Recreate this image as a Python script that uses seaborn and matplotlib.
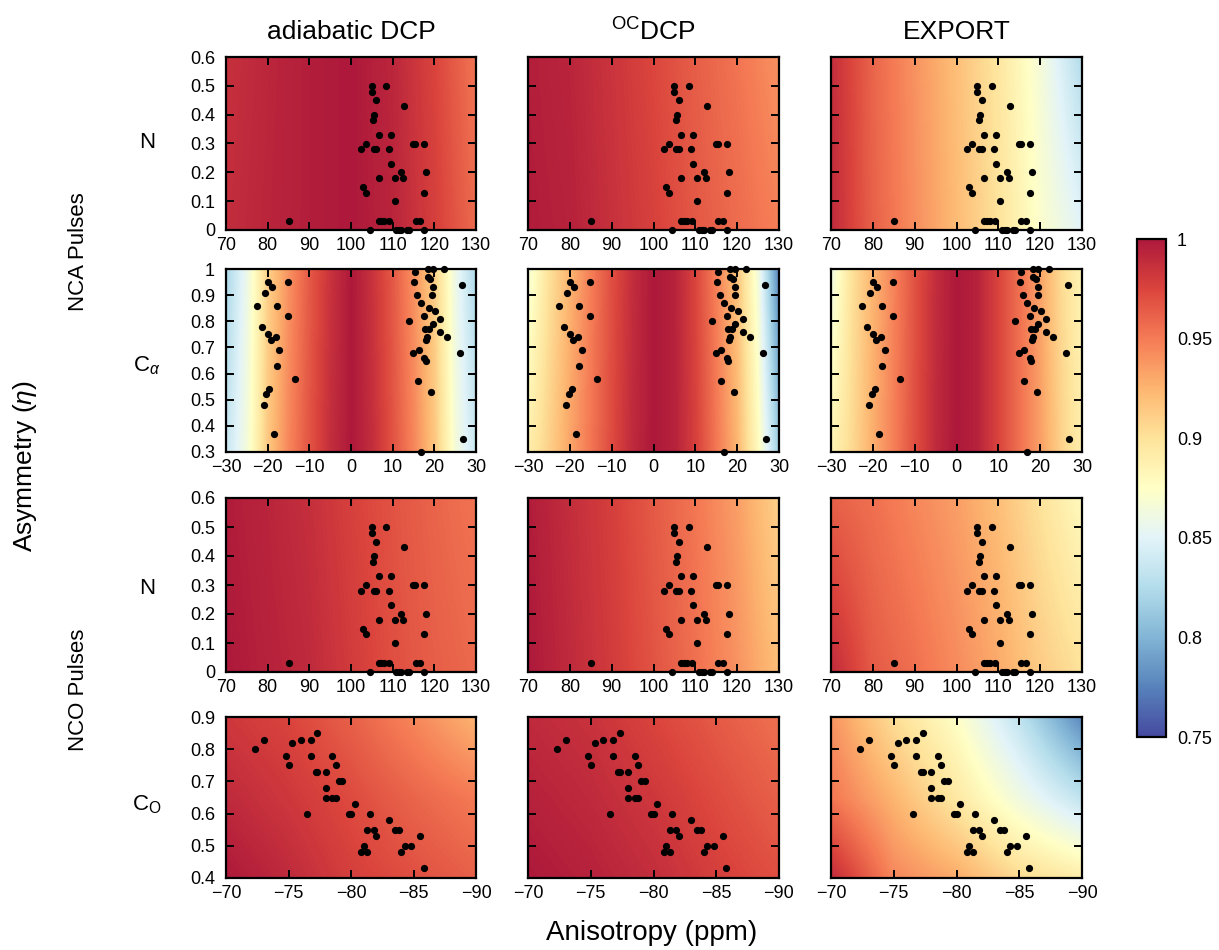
import numpy as np
import matplotlib
matplotlib.use("Agg")
import matplotlib.pyplot as plt
from matplotlib.colors import ListedColormap
from matplotlib.ticker import FuncFormatter, MultipleLocator
import seaborn as sns

# ---------------- data ----------------
methods = ['adiabatic DCP', '$^{\\mathsf{OC}}$DCP', 'EXPORT']
row_labels = ['N', 'C$_\\alpha$', 'N', 'C$_\\mathsf{O}$']

# scaling factor grids (sample positions along anisotropy / asymmetry)
n_grid_x = [70, 80, 90, 100, 110, 120, 130]
n_grid_y = [0, 0.6]
ca_grid_x = [-30, -25, -20, -15, -10, -5, 0, 5, 10, 15, 20, 25, 30]
ca_grid_y = [0.3, 1.0]
co_grid_x = [-70, -75, -80, -85, -90]
co_grid_y = [0.4, 0.65, 0.9]

# NCA pulses, N
nca_n_adiabatic = [[0.988, 0.993, 0.997, 1.0, 0.993, 0.978, 0.957],
                   [0.986, 0.992, 0.997, 1.0, 0.992, 0.975, 0.952]]
nca_n_oc = [[0.998, 0.995, 0.986, 0.977, 0.966, 0.957, 0.948],
            [0.997, 0.993, 0.984, 0.974, 0.963, 0.953, 0.940]]
nca_n_export = [[0.990, 0.962, 0.942, 0.922, 0.900, 0.872, 0.850],
                [0.988, 0.960, 0.940, 0.920, 0.897, 0.866, 0.825]]
# NCA pulses, C-alpha
nca_ca_adiabatic = [[0.835, 0.865, 0.915, 0.945, 0.968, 0.988, 1.0, 0.988, 0.968, 0.945, 0.915, 0.865, 0.835],
                    [0.820, 0.858, 0.910, 0.940, 0.965, 0.985, 1.0, 0.985, 0.965, 0.940, 0.910, 0.858, 0.820]]
nca_ca_oc = [[0.890, 0.910, 0.932, 0.952, 0.972, 0.990, 1.0, 0.995, 0.978, 0.952, 0.925, 0.880, 0.815],
             [0.865, 0.900, 0.925, 0.948, 0.970, 0.988, 1.0, 0.995, 0.975, 0.948, 0.918, 0.865, 0.775]]
nca_ca_export = [[0.885, 0.905, 0.928, 0.948, 0.970, 0.990, 1.0, 0.995, 0.975, 0.955, 0.935, 0.910, 0.890],
                 [0.860, 0.900, 0.925, 0.946, 0.968, 0.988, 1.0, 0.995, 0.975, 0.955, 0.933, 0.905, 0.885]]
# NCO pulses, N
nco_n_adiabatic = [[1.0, 0.995, 0.990, 0.980, 0.970, 0.963, 0.958],
                   [0.998, 0.993, 0.987, 0.977, 0.968, 0.960, 0.953]]
nco_n_oc = [[1.0, 0.990, 0.980, 0.968, 0.955, 0.940, 0.920],
            [0.998, 0.988, 0.978, 0.965, 0.952, 0.935, 0.910]]
nco_n_export = [[0.990, 0.965, 0.955, 0.943, 0.930, 0.913, 0.900],
                [0.962, 0.955, 0.945, 0.935, 0.920, 0.900, 0.880]]
# NCO pulses, C-O
nco_co_adiabatic = [[1.0, 0.990, 0.978, 0.970, 0.962],
                    [0.990, 0.982, 0.972, 0.960, 0.950],
                    [0.982, 0.975, 0.962, 0.945, 0.925]]
nco_co_oc = [[1.0, 0.995, 0.988, 0.978, 0.970],
             [0.995, 0.990, 0.982, 0.972, 0.962],
             [0.990, 0.985, 0.975, 0.965, 0.955]]
nco_co_export = [[0.990, 0.945, 0.930, 0.905, 0.892],
                 [0.952, 0.925, 0.895, 0.862, 0.832],
                 [0.940, 0.903, 0.875, 0.832, 0.778]]

# residue tensors (anisotropy ppm, asymmetry)
n_aniso = [85.0, 105.0, 105.0, 108.5, 106.0, 105.5, 105.3, 112.8, 106.6, 109.5,
           103.6, 102.5, 105.4, 106.1, 109.0, 114.9, 115.3, 117.6, 109.5, 112.0,
           118.1, 106.6, 110.5, 112.5, 102.9, 103.6, 117.6, 110.5, 106.6, 107.2,
           108.0, 109.1, 115.5, 116.5, 104.5, 110.9, 111.5, 112.0, 113.5, 114.0, 117.6]
n_eta = [0.03, 0.50, 0.48, 0.50, 0.45, 0.40, 0.38, 0.43, 0.33, 0.33,
         0.30, 0.28, 0.28, 0.28, 0.28, 0.30, 0.30, 0.30, 0.23, 0.20,
         0.20, 0.18, 0.18, 0.18, 0.15, 0.13, 0.13, 0.10, 0.03, 0.03,
         0.03, 0.03, 0.03, 0.03, 0.0, 0.0, 0.0, 0.0, 0.0, 0.0, 0.0]

ca_aniso = [-19.9, -19.0, -20.7, -22.5, -17.7, -15.2, -15.1, -21.3, -19.9, -19.2,
            -18.0, -17.2, -17.7, -13.4, -19.6, -20.3, -21.0, -18.6,
            15.3, 18.4, 19.6, 22.2, 18.4, 19.0, 15.1, 26.6, 19.6, 15.9,
            19.5, 16.9, 18.6, 20.1, 17.5, 21.4, 14.0, 19.6, 17.7, 18.8,
            21.4, 23.0, 18.3, 18.0, 14.9, 16.2, 17.6, 17.9, 26.2, 16.1,
            19.3, 26.8, 16.9]
ca_eta = [0.95, 0.93, 0.91, 0.86, 0.86, 0.95, 0.82, 0.78, 0.75, 0.73,
          0.74, 0.69, 0.63, 0.58, 0.54, 0.52, 0.48, 0.37,
          0.99, 1.0, 1.0, 1.0, 0.97, 0.96, 0.95, 0.94, 0.93, 0.90,
          0.90, 0.87, 0.85, 0.84, 0.82, 0.81, 0.80, 0.79, 0.77, 0.77,
          0.76, 0.74, 0.74, 0.73, 0.68, 0.69, 0.66, 0.65, 0.68, 0.57,
          0.53, 0.35, 0.30]

co_aniso = [-72.3, -73.0, -74.8, -75.0, -75.3, -76.0, -76.8, -77.3, -76.8, -76.5,
            -77.2, -77.3, -78.0, -78.5, -78.8, -78.0, -78.0, -78.5, -78.8, -79.0,
            -79.3, -79.8, -80.0, -80.3, -81.5, -81.3, -81.8, -82.0, -81.0, -80.8,
            -81.3, -83.0, -83.5, -83.8, -84.3, -84.8, -84.0, -85.5, -85.8]
co_eta = [0.80, 0.83, 0.78, 0.75, 0.82, 0.83, 0.83, 0.85, 0.78, 0.60,
          0.73, 0.73, 0.73, 0.78, 0.75, 0.68, 0.65, 0.65, 0.65, 0.70,
          0.70, 0.60, 0.60, 0.63, 0.60, 0.55, 0.55, 0.53, 0.50, 0.48,
          0.48, 0.58, 0.55, 0.55, 0.50, 0.50, 0.48, 0.53, 0.43]

cbar_ticks = [0.75, 0.8, 0.85, 0.9, 0.95, 1.0]

# ---------------- style ----------------
sns.set_style("ticks")
plt.rcParams['font.family'] = ['Liberation Sans', 'DejaVu Sans']
plt.rcParams['mathtext.fontset'] = 'custom'
plt.rcParams['mathtext.rm'] = 'Liberation Sans'
plt.rcParams['mathtext.sf'] = 'Liberation Sans'
plt.rcParams['mathtext.it'] = 'Liberation Sans:italic'
plt.rcParams['axes.unicode_minus'] = True
plt.rcParams['text.color'] = 'black'

base = plt.get_cmap('RdYlBu_r')(np.linspace(0, 1, 256))
base[:, :3] = base[:, :3] * 0.9 + 0.1
cmap = ListedColormap(base)
vmin, vmax = 0.75, 1.0

W, H = 1219, 950
fig = plt.figure(figsize=(W / 100, H / 100), dpi=100)


def rect(x0, y0, x1, y1):
    # pixel box (top-left origin) -> figure fraction
    return [x0 / W, 1 - y1 / H, (x1 - x0) / W, (y1 - y0) / H]


col_x = [(226, 476), (528, 779), (831, 1082)]
row_y = [(57, 230), (269, 452), (498, 672), (717, 878)]

fmt = FuncFormatter(lambda v, _: f"{v:g}".replace('-', '\u2212'))

rows = [
    dict(gx=n_grid_x, gy=n_grid_y, fields=[nca_n_adiabatic, nca_n_oc, nca_n_export],
         px=n_aniso, py=n_eta, xlim=(70, 130), ylim=(0, 0.6), xstep=10),
    dict(gx=ca_grid_x, gy=ca_grid_y, fields=[nca_ca_adiabatic, nca_ca_oc, nca_ca_export],
         px=ca_aniso, py=ca_eta, xlim=(-30, 30), ylim=(0.3, 1.0), xstep=10),
    dict(gx=n_grid_x, gy=n_grid_y, fields=[nco_n_adiabatic, nco_n_oc, nco_n_export],
         px=n_aniso, py=n_eta, xlim=(70, 130), ylim=(0, 0.6), xstep=10),
    dict(gx=co_grid_x, gy=co_grid_y, fields=[nco_co_adiabatic, nco_co_oc, nco_co_export],
         px=co_aniso, py=co_eta, xlim=(-70, -90), ylim=(0.4, 0.9), xstep=5),
]

img = None
for r, spec in enumerate(rows):
    gx, gy = spec['gx'], spec['gy']
    dx = (gx[1] - gx[0]) / 2
    dy = (gy[1] - gy[0]) / 2
    extent = [gx[0] - dx, gx[-1] + dx, gy[0] - dy, gy[-1] + dy]
    for c in range(3):
        ax = fig.add_axes(rect(col_x[c][0], row_y[r][0], col_x[c][1], row_y[r][1]))
        img = ax.imshow(np.array(spec['fields'][c]), origin='lower', extent=extent,
                        aspect='auto', interpolation='bilinear', cmap=cmap,
                        vmin=vmin, vmax=vmax)
        sns.scatterplot(x=spec['px'], y=spec['py'], ax=ax, color='black', s=27,
                        linewidth=0, legend=False, clip_on=False, zorder=5)
        ax.set_xlim(*spec['xlim'])
        ax.set_ylim(*spec['ylim'])
        ax.xaxis.set_major_locator(MultipleLocator(spec['xstep']))
        ax.yaxis.set_major_locator(MultipleLocator(0.1))
        ax.xaxis.set_major_formatter(fmt)
        ax.yaxis.set_major_formatter(fmt)
        ax.tick_params(direction='in', length=6, width=1.4, bottom=True, left=True,
                       top=True, right=True, labelsize=13, colors='black',
                       labelleft=(c == 0))
        ax.tick_params(axis='x', pad=5)
        ax.tick_params(axis='y', pad=8)
        for sp in ax.spines.values():
            sp.set_linewidth(1.6)
            sp.set_color('black')
            sp.set_zorder(6)
        ax.set_xlabel('')
        ax.set_ylabel('')

# colorbar
cax = fig.add_axes(rect(1137, 239, 1166, 737))
cb = fig.colorbar(img, cax=cax, ticks=cbar_ticks)
cb.ax.yaxis.set_major_formatter(fmt)
cb.ax.tick_params(direction='in', length=6, width=1.4, left=True, right=True,
                  labelsize=13, pad=8, colors='black')
cb.outline.set_linewidth(1.6)
cb.outline.set_edgecolor('black')

# titles and labels
def px_text(x, y, s, **kw):
    fig.text(x / W, 1 - y / H, s, ha='center', va='center', color='black', **kw)

for c, name in enumerate(methods):
    px_text((col_x[c][0] + col_x[c][1]) / 2, 32, name, fontsize=19)

label_y = [143, 366, 588, 805]
for r, lab in enumerate(row_labels):
    px_text(147, label_y[r], lab, fontsize=16)

px_text(78, 252, 'NCA Pulses', fontsize=16, rotation=90)
px_text(78, 690, 'NCO Pulses', fontsize=16, rotation=90)
px_text(25, 466, 'Asymmetry ($\\eta$)', fontsize=19, rotation=90)
px_text(652, 933, 'Anisotropy (ppm)', fontsize=20)

fig.savefig('out.png', dpi=100)
